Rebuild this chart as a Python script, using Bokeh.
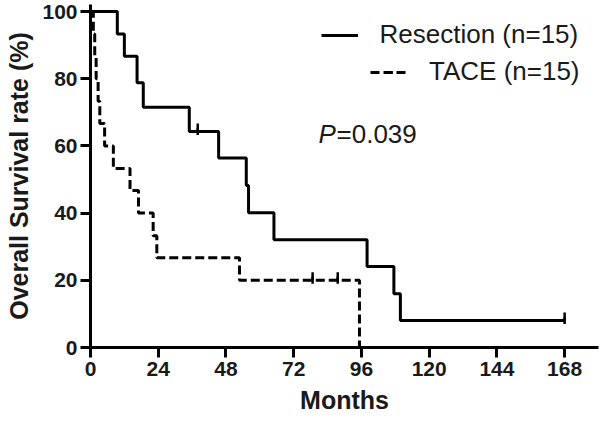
import math
from bokeh.plotting import figure
from bokeh.models import Range1d, FixedTicker, Legend, LegendItem, Label
from bokeh.embed import file_html
from bokeh.resources import INLINE

# Resection (n=15) Kaplan-Meier steps
res_time = [0, 9.5, 12, 16.5, 18.7, 35, 45.4, 55.2, 56, 65, 98, 107.5, 109.8, 168]
res_surv = [100, 93.3, 86.7, 78.8, 71.5, 64.3, 56.4, 48.2, 40.1, 32.1, 24.1, 16.0, 8.0, 8.0]
res_cens_time = [38, 168]
res_cens_surv = [64.3, 8.0]

# TACE (n=15) Kaplan-Meier steps
tace_time = [0, 1, 1.5, 2, 2.7, 3.3, 5, 8.1, 14, 17, 22.2, 23.5, 52.8, 95.3]
tace_surv = [100, 93.3, 86.7, 80, 73.3, 66.7, 60, 53.3, 46.7, 40, 33.3, 26.7, 20, 0]
tace_cens_time = [78.7, 87.6]
tace_cens_surv = [20, 20]

x_ticks = [0, 24, 48, 72, 96, 120, 144, 168]
y_ticks = [0, 20, 40, 60, 80, 100]

FONT = "Liberation Sans"

p = figure(width=600, height=420, output_backend="svg", toolbar_location=None,
           x_range=Range1d(0, 180), y_range=Range1d(0, 102.1),
           min_border_left=90, min_border_right=2, min_border_top=4, min_border_bottom=73)
p.outline_line_color = None
p.grid.visible = False
p.background_fill_color = "white"

for ax in (p.xaxis[0], p.yaxis[0]):
    ax.axis_line_width = 3
    ax.axis_line_color = "black"
    ax.major_tick_line_width = 3
    ax.major_tick_line_color = "black"
    ax.major_tick_out = 10
    ax.major_tick_in = 0
    ax.minor_tick_line_color = None
    ax.major_label_text_font = FONT
    ax.major_label_text_font_style = "bold"
    ax.major_label_text_font_size = "21px"
    ax.major_label_text_color = "#1a1a1a"
    ax.axis_label_text_font = FONT
    ax.axis_label_text_font_style = "bold"
    ax.axis_label_text_font_size = "25px"
    ax.axis_label_text_color = "#1a1a1a"

p.xaxis.ticker = FixedTicker(ticks=x_ticks)
p.yaxis.ticker = FixedTicker(ticks=y_ticks)
p.xaxis.major_label_standoff = 4
p.yaxis.major_label_standoff = 3
p.xaxis.axis_label = "Months"
p.yaxis.axis_label = "Overall Survival rate (%)"
p.xaxis.axis_label_standoff = 7
p.yaxis.axis_label_standoff = 6

res_line = p.step(res_time, res_surv, mode="after", line_width=3, line_color="black")
tace_line = p.step(tace_time, tace_surv, mode="after", line_width=3, line_color="black",
                   line_dash="9 4")

# censor ticks: short vertical marks rising from the curve
p.ray(x=res_cens_time, y=res_cens_surv, length=8, length_units="screen", angle=math.pi / 2,
      line_width=2.5, line_color="black")
p.ray(x=tace_cens_time, y=tace_cens_surv, length=8, length_units="screen", angle=math.pi / 2,
      line_width=2.5, line_color="black")
res_mark = p.scatter(res_cens_time, res_cens_surv, marker="dash", angle=math.pi / 2, size=7,
                     line_width=2.5, line_color="black")
tace_mark = p.scatter(tace_cens_time, tace_cens_surv, marker="dash", angle=math.pi / 2, size=7,
                      line_width=2.5, line_color="black")

def make_legend(label, rends, loc):
    lg = Legend(items=[LegendItem(label=label, renderers=rends)], location=loc,
                glyph_width=37, glyph_height=20, label_standoff=22, padding=0, margin=0,
                spacing=0, border_line_color=None, background_fill_alpha=0,
                label_text_font=FONT, label_text_font_size="26px",
                label_text_color="#1a1a1a", label_text_baseline="middle")
    p.add_layout(lg)

make_legend("Resection (n=15)", [res_line, res_mark], (230.5, 297))
make_legend("TACE (n=15)", [tace_line, tace_mark], (280, 260))

p.add_layout(Label(x=80.8, y=63.7, text="P", text_font=FONT, text_font_style="italic",
                   text_font_size="26px", text_baseline="middle", text_color="#1a1a1a"))
p.add_layout(Label(x=80.8, y=63.7, x_offset=18, text="=0.039", text_font=FONT,
                   text_font_size="26px", text_baseline="middle", text_color="#1a1a1a"))

open("out.html", "w").write(file_html(p, INLINE))
